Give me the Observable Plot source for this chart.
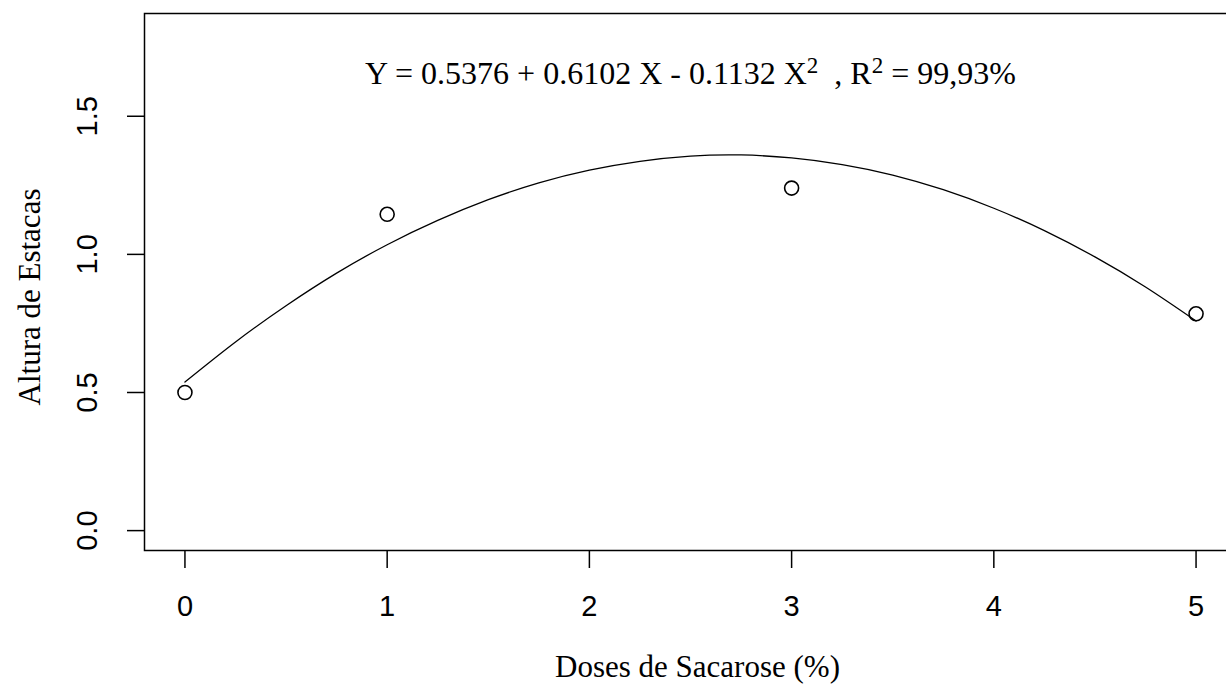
<!DOCTYPE html>
<html>
<head>
<meta charset="utf-8">
<script src="https://cdn.jsdelivr.net/npm/d3@7"></script>
<script src="https://cdn.jsdelivr.net/npm/@observablehq/plot@0.6"></script>
<style>
  html, body { margin: 0; padding: 0; background: #fff; overflow: hidden; width: 1226px; height: 686px; }
  #chart { position: absolute; left: 0; top: 0; width: 1240px; }
  #chart svg { max-width: none !important; }
</style>
</head>
<body>
<div id="chart"></div>
<script>
// Observed means
const doses = [0, 1, 3, 5];
const altura = [0.50, 1.145, 1.24, 0.785];

// Fitted curve
const curveX = [0, 0.25, 0.5, 0.75, 1, 1.25, 1.5, 1.75, 2, 2.25, 2.5, 2.75, 3, 3.25, 3.5, 3.75, 4, 4.25, 4.5, 4.75, 5];
const curveY = [0.538, 0.683, 0.814, 0.932, 1.035, 1.123, 1.198, 1.259, 1.305, 1.337, 1.356, 1.360, 1.349, 1.325, 1.287, 1.234, 1.167, 1.086, 0.991, 0.882, 0.759];

const xTicks = [0, 1, 2, 3, 4, 5];
const yTicks = [0.0, 0.5, 1.0, 1.5];
const yTickLabels = ["0.0", "0.5", "1.0", "1.5"];

// equation pieces: [text, isSuperscript]
const equationParts = [
  ["Y = 0.5376 + 0.6102 X - 0.1132 X", false],
  ["2", true],
  ["  , R", false],
  ["2", true],
  [" = 99,93%", false]
];
const equation = equationParts.map(p => p[0]).join("");
const xLabel = "Doses de Sacarose (%)";
const yLabel = "Altura de Estacas";

const points = doses.map((d, i) => ({x: d, y: altura[i]}));
const curve = curveX.map((d, i) => ({x: d, y: curveY[i]}));
const yTickData = yTicks.map((v, i) => ({y: v, label: yTickLabels[i]}));

const serif = "'Liberation Serif', 'Times New Roman', serif";
const sans = "'Liberation Sans', Arial, sans-serif";

const chart = Plot.plot({
  width: 1240,
  height: 686,
  marginLeft: 144,
  marginRight: 4,
  marginTop: 13,
  marginBottom: 136,
  style: {background: "#fff", color: "#000", maxWidth: "none"},
  x: {domain: [-0.2, 5.2]},
  y: {domain: [-0.072, 1.872]},
  marks: [
    Plot.frame({stroke: "#000", strokeWidth: 1.5}),
    Plot.axisX({ticks: xTicks, tickSize: 18, tickPadding: 27, tickFormat: d => String(d),
      fontSize: 29, fontFamily: sans, stroke: "#000", strokeWidth: 1.5, label: null}),
    Plot.axisY({ticks: yTicks, tickSize: 17, tickFormat: () => "", stroke: "#000", strokeWidth: 1.5, label: null}),
    Plot.text(yTickData, {y: "y", text: "label", frameAnchor: "left", dx: -57, rotate: -90,
      fontSize: 29, fontFamily: sans, fill: "#000", lineAnchor: "middle", textAnchor: "middle"}),
    Plot.line(curve, {x: "x", y: "y", curve: "natural", stroke: "#000", strokeWidth: 1.3}),
    Plot.dot(points, {x: "x", y: "y", r: 7, stroke: "#000", strokeWidth: 1.6, fill: "none"}),
    Plot.text([equation], {frameAnchor: "top", dy: 60, fontSize: 32, fontFamily: serif, fill: "#000",
      lineAnchor: "middle", textAnchor: "middle", className: "equation"}),
    Plot.text([xLabel], {frameAnchor: "bottom", dy: 117, dx: 7, fontSize: 31, fontFamily: serif, fill: "#000",
      lineAnchor: "middle", textAnchor: "middle"}),
    Plot.text([yLabel], {frameAnchor: "left", dx: -114, dy: 15, rotate: -90, fontSize: 31, fontFamily: serif, fill: "#000",
      lineAnchor: "middle", textAnchor: "middle"})
  ]
});

// rebuild the equation with real superscripts
const supShift = 11;
d3.select(chart).selectAll("g.equation text").each(function() {
  const t = d3.select(this);
  t.text(null);
  t.style("white-space", "pre");
  equationParts.forEach(([s, sup], i) => {
    const ts = t.append("tspan").text(s);
    const prevSup = i > 0 && equationParts[i - 1][1];
    if (sup) ts.attr("font-size", "72%").attr("dy", -supShift);
    else if (prevSup) ts.attr("dy", supShift);
  });
});
document.getElementById("chart").appendChild(chart);
</script>
</body>
</html>
